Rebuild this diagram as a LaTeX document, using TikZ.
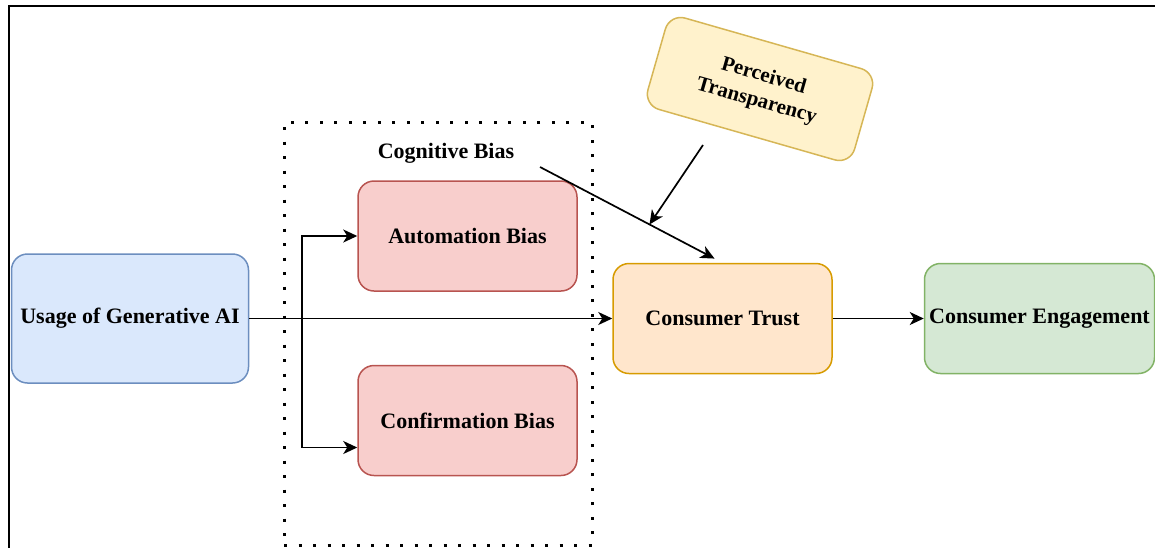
\documentclass[tikz,border=0pt]{standalone}
\usepackage{fontspec}
\setmainfont{Liberation Serif}
\usepackage{tikz}
\usetikzlibrary{positioning,arrows.meta}
\definecolor{DioBlueFill}{HTML}{DAE8FC}
\definecolor{DioBlueLine}{HTML}{6C8EBF}
\definecolor{DioRedFill}{HTML}{F8CECC}
\definecolor{DioRedLine}{HTML}{B85450}
\definecolor{DioOrangeFill}{HTML}{FFE6CC}
\definecolor{DioOrangeLine}{HTML}{D79B00}
\definecolor{DioGreenFill}{HTML}{D5E8D4}
\definecolor{DioGreenLine}{HTML}{82B366}
\definecolor{DioYellowFill}{HTML}{FFF2CC}
\definecolor{DioYellowLine}{HTML}{D6B656}

\begin{document}
\begin{tikzpicture}[x=1pt,y=-1pt,
    box/.style={rectangle,rounded corners=16pt,line width=1.5pt,inner sep=0pt,
      minimum width=219pt,minimum height=110pt,align=center,
      font=\fontsize{22}{24}\selectfont\bfseries},
    arr/.style={-{Stealth[length=14pt,width=13pt,inset=4pt]},line width=1.7pt}]
    \useasboundingbox (0,0) rectangle (1155,547);
    \draw[line width=2.5pt] (9,560) -- (9,6) -- (1170,6);
    \node[draw,dash pattern=on 3pt off 11.5pt,line width=3pt,
      minimum width=308pt,minimum height=423pt] (group) at (438,333.5) {};
    \node[font=\fontsize{22}{24}\selectfont\bfseries] (cogn) at (446,153) {Cognitive Bias};
    \node[box,fill=DioBlueFill,draw=DioBlueLine,minimum width=237pt,minimum height=129pt]
      (usage) at (130,318.5) {Usage of Generative AI};
    \node[box,fill=DioRedFill,draw=DioRedLine] (auto) at (467.5,236) {Automation Bias};
    \node[box,fill=DioRedFill,draw=DioRedLine,below=73pt of auto] (conf) {Confirmation Bias};
    \node[box,fill=DioOrangeFill,draw=DioOrangeLine] (trust) at (722.5,318.5) {Consumer Trust};
    \node[box,fill=DioGreenFill,draw=DioGreenLine,minimum width=230pt,right=91pt of trust]
      (engage) {Consumer Engagement};
    \node[box,fill=DioYellowFill,draw=DioYellowLine,minimum width=215pt,minimum height=95pt,
      rotate=-16,font=\fontsize{21}{26}\selectfont\bfseries]
      (perc) at (760,89) {Perceived\\Transparency};
    \coordinate (split) at (302,318.5);
    \coordinate (cogtail) at (540,167);
    \coordinate (perctail) at (703,145);
    \draw[arr] (usage.east) -- (trust.west);
    \draw[arr] (split) |- (auto.west);
    \draw[arr] (split) |- ([yshift=-27pt]conf.west);
    \draw[arr,shorten >=9pt] (cogtail) -- coordinate[pos=0.6] (mod) (trust.north);
    \draw[arr] (perctail) -- (mod);
    \draw[arr] (trust.east) -- (engage.west);
  \end{tikzpicture}
\end{document}
